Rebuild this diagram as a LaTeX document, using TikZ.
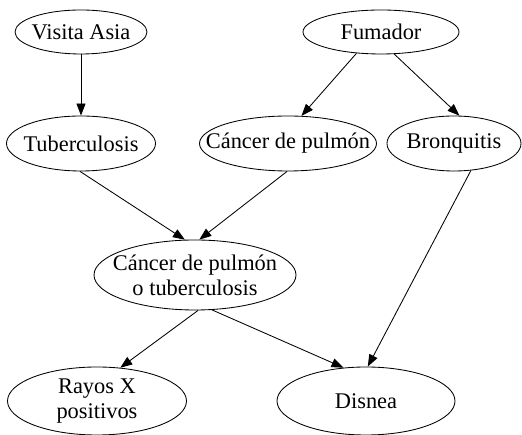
\documentclass[tikz,border=0pt]{standalone}
\usepackage{fontspec}
\setmainfont{Liberation Serif}
\usetikzlibrary{shapes.geometric,arrows.meta}
\tikzset{
  bnode/.style={ellipse, draw, line width=0.85pt, inner sep=-25pt, align=center,
    font=\fontsize{22.4}{25}\selectfont},
  arr/.style={draw, line width=0.85pt, -{Triangle[length=12pt,width=9pt]}}
}
\begin{document}
\begin{tikzpicture}[x=1pt,y=1pt]
\useasboundingbox (0,0) rectangle (522,435);
\node[bnode, minimum width=132pt, minimum height=44pt] (visita) at (81,403) {Visita Asia};
\node[bnode, minimum width=156pt, minimum height=44pt] (fum) at (381,403) {Fumador};
\node[bnode, minimum width=149pt, minimum height=55pt] (tub) at (81,291.5) {Tuberculosis};
\node[bnode, minimum width=177pt, minimum height=55pt] (can) at (288,291.5) {Cáncer de pulmón};
\node[bnode, minimum width=134pt, minimum height=55pt] (bro) at (454,291.5) {Bronquitis};
\node[bnode, minimum width=202pt, minimum height=70pt] (cot) at (195,160) {Cáncer de pulmón\\o tuberculosis};
\node[bnode, minimum width=179pt, minimum height=68pt] (ray) at (97,34) {Rayos X\\positivos};
\node[bnode, minimum width=178pt, minimum height=68pt] (dis) at (366,34) {Disnea};
\draw[arr] (visita) -- (tub);
\draw[arr] (fum.221) -- (can.64);
\draw[arr] (fum.301) -- (bro.79);
\draw[arr] (tub.268) -- (cot.106);
\draw[arr] (can.268) -- (cot.83);
\draw[arr] (bro.302) -- (dis.87);
\draw[arr] (cot.275) -- (ray.55);
\draw[arr] (cot.296) -- (dis.124);
\end{tikzpicture}
\end{document}
